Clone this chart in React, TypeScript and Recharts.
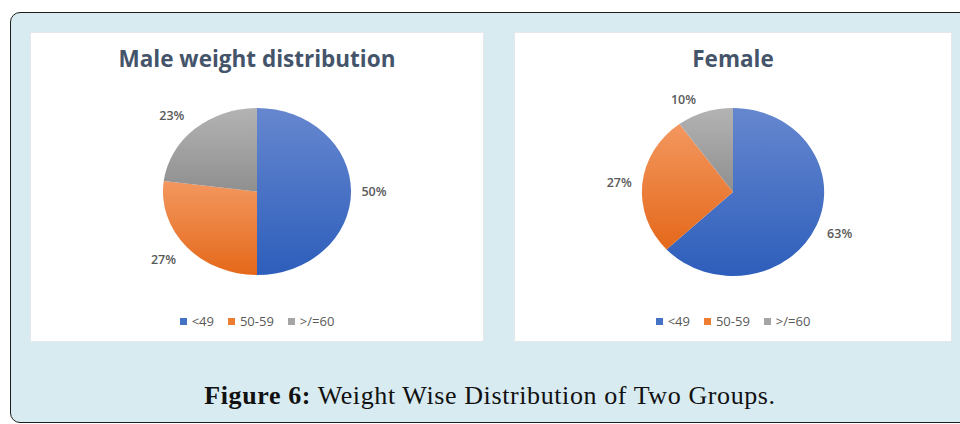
import { PieChart, Pie, Cell, Legend } from "recharts";

const categories = ["<49", "50-59", ">/=60"];
const maleValues = [50, 27, 23];
const femaleValues = [63, 27, 10];

// top / bottom stops of each slice gradient
const sliceColors = [
  { top: "#6687cf", bottom: "#2d5ebb", flat: "#4472c4" },
  { top: "#f3975f", bottom: "#e4681a", flat: "#ed7d31" },
  { top: "#b3b3b3", bottom: "#8f8f8f", flat: "#a5a5a5" },
];

const RAD = Math.PI / 180;
const labelColor = "#595959";
const font = "'Open Sans', Lato, sans-serif";

type PanelProps = {
  id: string;
  title: string;
  values: number[];
  left: number;
  width: number;
  cx: number;
  cy: number;
  ry: number;
  stretch: number;
};

const clamp = (v: number) => Math.max(-1, Math.min(1, v));

function ellipsePoint(cx: number, cy: number, rx: number, ry: number, angle: number) {
  return [cx + rx * Math.cos(-angle * RAD), cy + ry * Math.sin(-angle * RAD)];
}

// pie sectors drawn as slices of an ellipse (slightly wider than tall)
function makeShape(stretch: number) {
  return (props: any) => {
    const { cx, cy, outerRadius, startAngle, endAngle, fill } = props;
    const rx = outerRadius * stretch;
    const ry = outerRadius;
    const [x1, y1] = ellipsePoint(cx, cy, rx, ry, startAngle);
    const [x2, y2] = ellipsePoint(cx, cy, rx, ry, endAngle);
    const large = Math.abs(endAngle - startAngle) > 180 ? 1 : 0;
    const d = `M${cx},${cy} L${x1},${y1} A${rx},${ry} 0 ${large} 1 ${x2},${y2} Z`;
    return <path d={d} fill={fill} stroke="none" />;
  };
}

// "outside end" labels: box pushed off the rim along the slice's mid angle
function makeLabel(stretch: number) {
  return (props: any) => {
    const { cx, cy, midAngle, outerRadius, value } = props;
    const cos = Math.cos(-midAngle * RAD);
    const sin = Math.sin(-midAngle * RAD);
    const x = cx + outerRadius * stretch * cos + 23 * clamp(cos * 3);
    const y = cy + outerRadius * sin + 13 * clamp(sin * 1.6);
    return (
      <text
        x={x}
        y={y}
        textAnchor="middle"
        dominantBaseline="central"
        fill={labelColor}
        fontSize={12.5}
        fontWeight={600}
        fontFamily={font}
      >
        {value}%
      </text>
    );
  };
}

function LegendRow() {
  return (
    <div
      style={{
        display: "flex",
        justifyContent: "center",
        alignItems: "center",
        fontFamily: font,
        fontSize: 13,
        color: labelColor,
      }}
    >
      {categories.map((c, i) => (
        <span key={c} style={{ display: "flex", alignItems: "center", marginRight: i < 2 ? 14 : 0 }}>
          <span
            style={{
              width: 7,
              height: 7,
              background: sliceColors[i].flat,
              marginRight: 5,
              display: "inline-block",
            }}
          />
          {c}
        </span>
      ))}
    </div>
  );
}

function WeightPie({ id, title, values, left, width, cx, cy, ry, stretch }: PanelProps) {
  const data = categories.map((name, i) => ({ name, value: values[i] }));
  const shape = makeShape(stretch);
  return (
    <div
      style={{
        position: "absolute",
        left,
        top: 33,
        width,
        height: 308,
        background: "#ffffff",
        boxShadow: "0 0 0 1px #e4e8ec",
      }}
    >
      <div
        style={{
          position: "absolute",
          left: 0,
          top: 10,
          width,
          textAlign: "center",
          fontFamily: font,
          fontWeight: 700,
          fontSize: 22.5,
          color: "#44546a",
        }}
      >
        {title}
      </div>
      <PieChart
        width={width}
        height={308}
        margin={{ top: 0, right: 0, bottom: 0, left: 0 }}
        style={{ position: "absolute", left: 0, top: 0 }}
      >
        <defs>
          {sliceColors.map((c, i) => (
            <linearGradient key={i} id={`${id}-g${i}`} x1="0" y1="0" x2="0" y2="1">
              <stop offset="0%" stopColor={c.top} />
              <stop offset="100%" stopColor={c.bottom} />
            </linearGradient>
          ))}
        </defs>
        <Pie
          data={data}
          dataKey="value"
          nameKey="name"
          cx={cx}
          cy={cy}
          outerRadius={ry}
          startAngle={90}
          endAngle={-270}
          stroke="none"
          shape={shape}
          activeShape={shape}
          inactiveShape={shape}
          label={makeLabel(stretch)}
          labelLine={false}
          isAnimationActive={false}
        >
          {data.map((d, i) => (
            <Cell key={d.name} fill={`url(#${id}-g${i})`} />
          ))}
        </Pie>
        <Legend
          verticalAlign="bottom"
          wrapperStyle={{ top: 279, left: 0, width, bottom: "auto" }}
          content={() => <LegendRow />}
        />
      </PieChart>
    </div>
  );
}

export default function App() {
  return (
    <div
      style={{
        position: "absolute",
        left: 0,
        top: 0,
        width: 960,
        height: 424,
        overflow: "hidden",
        background: "#ffffff",
      }}
    >
      <div
        style={{
          position: "absolute",
          left: 10,
          top: 12,
          width: 980,
          height: 409,
          border: "1.5px solid #1e1e1e",
          borderRadius: 10,
          background: "#d8ebf1",
        }}
      />
      <WeightPie
        id="male"
        title="Male weight distribution"
        values={maleValues}
        left={31}
        width={452}
        cx={226}
        cy={158.5}
        ry={83.5}
        stretch={1.126}
      />
      <WeightPie
        id="female"
        title="Female"
        values={femaleValues}
        left={515}
        width={436}
        cx={218}
        cy={159}
        ry={84}
        stretch={1.085}
      />
      <div
        style={{
          position: "absolute",
          left: 10,
          top: 381,
          width: 960,
          textAlign: "center",
          fontFamily: "'Liberation Serif', serif",
          fontSize: 26,
          letterSpacing: 0.6,
          color: "#111111",
        }}
      >
        <b>Figure 6:</b> Weight Wise Distribution of Two Groups.
      </div>
    </div>
  );
}
